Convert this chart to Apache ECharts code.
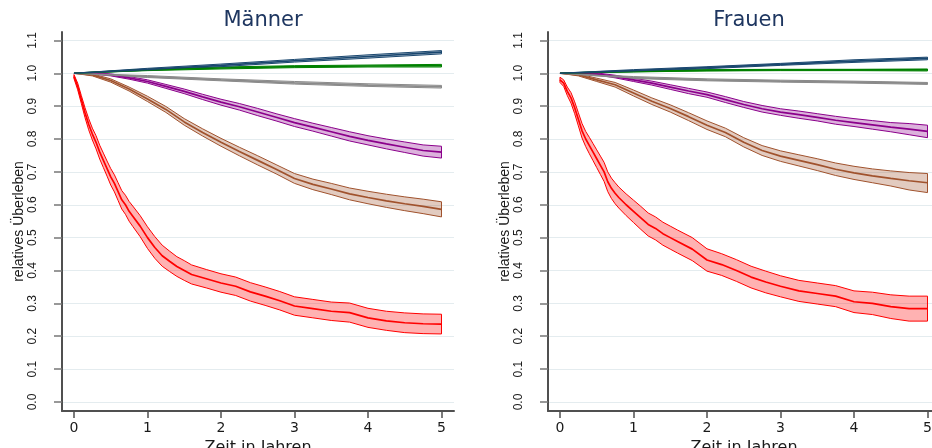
<!DOCTYPE html>
<html><head><meta charset="utf-8">
<script src="https://cdn.jsdelivr.net/npm/echarts@6/dist/echarts.min.js"></script>
<style>html,body{margin:0;padding:0;background:#fff}#c{width:932px;height:448px}</style>
</head><body><div id="c"></div>
<script>
// ---------- axis ticks ----------
const yTicks = [0, 0.1, 0.2, 0.3, 0.4, 0.5, 0.6, 0.7, 0.8, 0.9, 1.0, 1.1];
const xTicks = [0, 1, 2, 3, 4, 5];
const panelTitles = ['Männer', 'Frauen'];

// ---------- time grids ----------
const tFine = [0,0.05,0.1,0.15,0.2,0.25,0.3,0.35,0.4,0.45,0.5,0.55,0.6,0.65,0.7,0.75,0.8,0.9,1.0,1.1,1.2,1.3,1.4,1.5,1.6,1.8,2.0,2.2,2.4,2.6,2.8,3.0,3.25,3.5,3.75,4.0,4.25,4.5,4.75,5.0];
const tMid = [0,0.25,0.5,0.75,1,1.25,1.5,1.75,2,2.25,2.5,2.75,3,3.25,3.5,3.75,4,4.25,4.5,4.75,5];
const tLin = [0,1,2,3,4,5];

// ---------- Männer ----------
const mRedEst = [0.99,0.96,0.92,0.88,0.845,0.815,0.79,0.76,0.735,0.71,0.685,0.665,0.64,0.615,0.6,0.58,0.565,0.535,0.5,0.47,0.445,0.428,0.412,0.4,0.388,0.375,0.362,0.352,0.335,0.322,0.308,0.292,0.284,0.276,0.272,0.256,0.247,0.241,0.238,0.237];
const mRedLo  = [0.984,0.95,0.908,0.865,0.828,0.797,0.77,0.739,0.713,0.687,0.66,0.639,0.613,0.587,0.571,0.55,0.534,0.503,0.467,0.437,0.413,0.397,0.382,0.37,0.359,0.347,0.334,0.324,0.307,0.294,0.28,0.264,0.256,0.248,0.243,0.227,0.218,0.211,0.208,0.207];
const mRedHi  = [0.996,0.97,0.932,0.895,0.862,0.833,0.81,0.781,0.757,0.733,0.71,0.691,0.667,0.643,0.629,0.61,0.596,0.567,0.533,0.503,0.477,0.459,0.442,0.43,0.417,0.403,0.39,0.38,0.363,0.35,0.336,0.32,0.312,0.304,0.301,0.285,0.276,0.271,0.268,0.267];

const mBrownEst = [1.0,0.995,0.978,0.952,0.922,0.89,0.852,0.82,0.79,0.762,0.735,0.708,0.68,0.662,0.648,0.633,0.622,0.612,0.603,0.595,0.586];
const mBrownLo  = [1.0,0.992,0.973,0.946,0.914,0.881,0.842,0.809,0.778,0.749,0.721,0.694,0.665,0.646,0.631,0.615,0.603,0.592,0.582,0.573,0.563];
const mBrownHi  = [1.0,0.998,0.983,0.958,0.93,0.899,0.862,0.831,0.802,0.775,0.749,0.722,0.695,0.678,0.665,0.651,0.641,0.632,0.624,0.617,0.609];

const mPurpleEst = [1.0,1.0,0.995,0.986,0.975,0.96,0.945,0.928,0.912,0.898,0.882,0.866,0.85,0.836,0.822,0.808,0.796,0.785,0.775,0.765,0.76];
const mPurpleLo  = [1.0,0.998,0.992,0.982,0.97,0.954,0.938,0.92,0.903,0.888,0.871,0.855,0.838,0.824,0.809,0.794,0.782,0.77,0.759,0.748,0.742];
const mPurpleHi  = [1.0,1.002,0.998,0.99,0.98,0.966,0.952,0.936,0.921,0.908,0.893,0.877,0.862,0.848,0.835,0.822,0.81,0.8,0.791,0.782,0.778];

const mGrayEst = [1.0,0.99,0.98,0.971,0.964,0.959];
const mGrayLo  = [1.0,0.987,0.977,0.967,0.96,0.955];
const mGrayHi  = [1.0,0.993,0.983,0.975,0.968,0.963];

const mGreenEst = [1.0,1.01,1.016,1.02,1.022,1.023];
const mGreenLo  = [1.0,1.008,1.013,1.017,1.019,1.019];
const mGreenHi  = [1.0,1.012,1.019,1.023,1.025,1.027];

const mBlueEst = [1.0,1.012,1.024,1.038,1.051,1.064];
const mBlueLo  = [1.0,1.009,1.02,1.034,1.046,1.059];
const mBlueHi  = [1.0,1.015,1.028,1.042,1.056,1.069];

// ---------- Frauen ----------
const fRedEst = [0.98,0.97,0.945,0.925,0.895,0.86,0.825,0.8,0.78,0.76,0.74,0.72,0.7,0.67,0.65,0.635,0.622,0.6,0.58,0.56,0.54,0.528,0.512,0.5,0.488,0.465,0.432,0.418,0.4,0.38,0.365,0.352,0.338,0.33,0.322,0.305,0.3,0.29,0.284,0.284];
const fRedLo  = [0.972,0.96,0.932,0.909,0.877,0.84,0.803,0.777,0.755,0.734,0.713,0.692,0.671,0.64,0.619,0.603,0.59,0.567,0.546,0.525,0.505,0.493,0.477,0.465,0.453,0.43,0.398,0.385,0.367,0.347,0.332,0.32,0.306,0.298,0.29,0.272,0.266,0.254,0.246,0.246];
const fRedHi  = [0.988,0.98,0.958,0.941,0.913,0.88,0.847,0.823,0.805,0.786,0.767,0.748,0.729,0.7,0.681,0.667,0.654,0.633,0.614,0.595,0.575,0.563,0.547,0.535,0.523,0.5,0.466,0.451,0.433,0.413,0.398,0.384,0.37,0.362,0.354,0.338,0.334,0.326,0.322,0.322];

const fBrownEst = [1.0,0.995,0.98,0.965,0.94,0.915,0.893,0.868,0.842,0.82,0.79,0.765,0.748,0.735,0.722,0.708,0.697,0.688,0.68,0.673,0.667];
const fBrownLo  = [1.0,0.992,0.975,0.958,0.931,0.905,0.882,0.856,0.829,0.807,0.776,0.75,0.732,0.718,0.704,0.689,0.677,0.667,0.657,0.645,0.637];
const fBrownHi  = [1.0,0.998,0.985,0.972,0.949,0.925,0.904,0.88,0.855,0.833,0.804,0.78,0.764,0.752,0.74,0.727,0.717,0.709,0.703,0.698,0.695];

const fPurpleEst = [1.0,1.0,0.998,0.99,0.98,0.97,0.958,0.946,0.935,0.92,0.905,0.892,0.882,0.874,0.866,0.857,0.85,0.843,0.836,0.83,0.823];
const fPurpleLo  = [1.0,0.998,0.995,0.986,0.975,0.964,0.951,0.938,0.927,0.911,0.896,0.882,0.872,0.863,0.855,0.845,0.838,0.83,0.822,0.813,0.804];
const fPurpleHi  = [1.0,1.002,1.001,0.994,0.985,0.976,0.965,0.954,0.943,0.929,0.914,0.902,0.892,0.885,0.877,0.869,0.862,0.856,0.85,0.847,0.842];

const fGrayEst = [1.0,0.987,0.98,0.976,0.973,0.969];
const fGrayLo  = [1.0,0.984,0.977,0.973,0.97,0.966];
const fGrayHi  = [1.0,0.99,0.983,0.979,0.976,0.972];

const fGreenEst = [1.0,1.006,1.009,1.01,1.01,1.01];
const fGreenLo  = [1.0,1.004,1.007,1.008,1.008,1.007];
const fGreenHi  = [1.0,1.008,1.011,1.012,1.012,1.013];

const fBlueEst = [1.0,1.008,1.017,1.027,1.037,1.045];
const fBlueLo  = [1.0,1.005,1.014,1.024,1.033,1.041];
const fBlueHi  = [1.0,1.011,1.02,1.03,1.041,1.049];

// ---------- styles ----------
const COL = {
  red:    {line: '#ff0000', fill: 'rgba(255,0,0,0.30)'},
  brown:  {line: '#a0522d', fill: 'rgba(160,82,45,0.30)'},
  purple: {line: '#8b008b', fill: 'rgba(139,0,139,0.30)'},
  gray:   {line: '#8a8a8a', fill: 'rgba(138,138,138,0.30)'},
  green:  {line: '#008000', fill: 'rgba(0,128,0,0.30)'},
  blue:   {line: '#1a476f', fill: 'rgba(26,71,111,0.30)'}
};

const panelsData = [
  [
    {t: tFine, est: mRedEst, lo: mRedLo, hi: mRedHi, c: COL.red},
    {t: tMid, est: mBrownEst, lo: mBrownLo, hi: mBrownHi, c: COL.brown},
    {t: tMid, est: mPurpleEst, lo: mPurpleLo, hi: mPurpleHi, c: COL.purple},
    {t: tLin, est: mGrayEst, lo: mGrayLo, hi: mGrayHi, c: COL.gray},
    {t: tLin, est: mGreenEst, lo: mGreenLo, hi: mGreenHi, c: COL.green},
    {t: tLin, est: mBlueEst, lo: mBlueLo, hi: mBlueHi, c: COL.blue}
  ],
  [
    {t: tFine, est: fRedEst, lo: fRedLo, hi: fRedHi, c: COL.red},
    {t: tMid, est: fBrownEst, lo: fBrownLo, hi: fBrownHi, c: COL.brown},
    {t: tMid, est: fPurpleEst, lo: fPurpleLo, hi: fPurpleHi, c: COL.purple},
    {t: tLin, est: fGrayEst, lo: fGrayLo, hi: fGrayHi, c: COL.gray},
    {t: tLin, est: fGreenEst, lo: fGreenLo, hi: fGreenHi, c: COL.green},
    {t: tLin, est: fBlueEst, lo: fBlueLo, hi: fBlueHi, c: COL.blue}
  ]
];

const series = [];
function pathPoints(api, t, v) {
  return t.map((x, i) => api.coord([x, v[i]]));
}
panelsData.forEach((curves, gi) => {
  curves.forEach((cv) => {
    series.push({
      type: 'custom', xAxisIndex: gi, yAxisIndex: gi, silent: true, clip: true,
      data: cv.t.map((x, i) => [x, cv.lo[i], cv.hi[i]]),
      encode: {x: 0, y: [1, 2]},
      renderItem: function (params, api) {
        if (params.dataIndex !== 0) return null;
        const up = pathPoints(api, cv.t, cv.hi);
        const dn = pathPoints(api, cv.t, cv.lo).reverse();
        return {type: 'polygon', shape: {points: up.concat(dn)},
                style: {fill: cv.c.fill, stroke: cv.c.line, lineWidth: 1}};
      }
    });
    const mk = (vals, w) => ({
      type: 'line', xAxisIndex: gi, yAxisIndex: gi, silent: true,
      symbol: 'none', showSymbol: false,
      lineStyle: {color: cv.c.line, width: w},
      data: cv.t.map((x, i) => [x, vals[i]])
    });
    series.push(mk(cv.est, 1.7));
  });
});

const axisColor = '#505050';
const grids = [
  {left: 62, top: 32, width: 392, height: 379, containLabel: false, outerBoundsMode: 'none'},
  {left: 548, top: 32, width: 392, height: 379, containLabel: false, outerBoundsMode: 'none'}
];
const xAxes = [0, 1].map(gi => ({
  type: 'value', gridIndex: gi, min: -0.163, max: 5.17,
  name: 'Zeit in Jahren', nameLocation: 'middle', nameGap: 22,
  nameTextStyle: {fontFamily: 'DejaVu Sans', fontSize: 16, color: '#1a1a1a'},
  axisLine: {show: true, onZero: false, lineStyle: {color: axisColor, width: 2}},
  axisTick: {show: true, customValues: xTicks, length: 7, lineStyle: {color: axisColor, width: 1.5}},
  axisLabel: {customValues: xTicks, fontFamily: 'DejaVu Sans', fontSize: 14, color: '#1a1a1a', margin: 10},
  splitLine: {show: false}
}));
const yAxes = [0, 1].map(gi => ({
  type: 'value', gridIndex: gi, min: -0.0274, max: 1.1255,
  name: 'relatives Überleben', nameLocation: 'middle', nameGap: 36, nameRotate: 90,
  nameTextStyle: {fontFamily: 'Liberation Sans', fontSize: 14, color: '#1a1a1a'},
  axisLine: {show: true, onZero: false, lineStyle: {color: axisColor, width: 2}},
  axisTick: {show: true, customValues: yTicks, length: 8, lineStyle: {color: '#777', width: 1.5}},
  axisLabel: {customValues: yTicks, rotate: 90, fontFamily: 'Liberation Sans', fontSize: 12, color: '#1a1a1a', margin: 23,
    formatter: v => Number(v).toFixed(1)},
  splitLine: {show: true, lineStyle: {color: '#e4ecef', width: 1.2}}
}));

const chart = echarts.init(document.getElementById('c'));
chart.setOption({
  animation: false,
  backgroundColor: '#ffffff',
  title: [
    {text: panelTitles[0], left: 258, top: 5, textAlign: 'center',
     textStyle: {fontFamily: 'DejaVu Sans', fontSize: 21, fontWeight: 'normal', color: '#1e3660'}},
    {text: panelTitles[1], left: 744, top: 5, textAlign: 'center',
     textStyle: {fontFamily: 'DejaVu Sans', fontSize: 21, fontWeight: 'normal', color: '#1e3660'}}
  ],
  grid: grids, xAxis: xAxes, yAxis: yAxes, series: series
});
</script></body></html>
